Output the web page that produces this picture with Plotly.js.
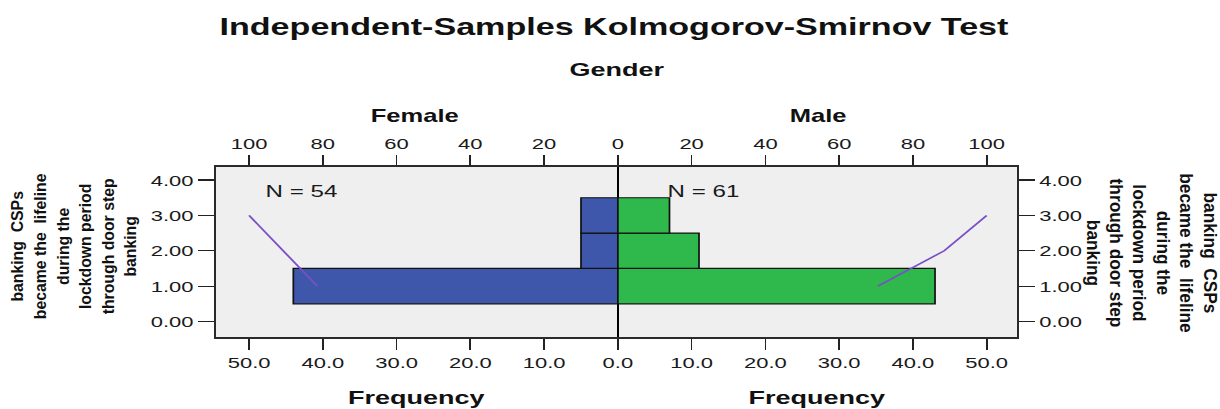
<!DOCTYPE html>
<html><head><meta charset="utf-8">
<script src="https://cdn.plot.ly/plotly-3.0.1.min.js"></script>
<style>
html,body{margin:0;padding:0;background:#fff;overflow:hidden;}
#wrap{width:1220px;height:409px;overflow:hidden;}
#chart{width:859px;height:409px;transform:scaleX(1.420256);transform-origin:0 0;}
</style></head><body>
<div id="wrap"><div id="chart"></div></div>
<script>
// ---- data ----
const categories = [1, 2, 3];
const femaleFreq = [44, 5, 5];
const maleFreq = [43, 11, 7];
const femaleCumPct = [81.5, 90.7, 100];
const maleCumPct = [70.5, 88.5, 100];
const femaleN = 54;
const maleN = 61;
const freqTicks = [-50, -40, -30, -20, -10, 0, 10, 20, 30, 40, 50];
const freqTickText = ['50.0','40.0','30.0','20.0','10.0','0.0','10.0','20.0','30.0','40.0','50.0'];
const pctTicks = [-100, -80, -60, -40, -20, 0, 20, 40, 60, 80, 100];
const pctTickText = ['100','80','60','40','20','0','20','40','60','80','100'];
const yTicks = [0, 1, 2, 3, 4];
const yTickText = ['0.00','1.00','2.00','3.00','4.00'];
const yTitle = 'banking  CSPs<br>became the  lifeline<br>during the<br>lockdown period<br>through door step<br>banking';
const chartTitle = 'Independent-Samples Kolmogorov-Smirnov Test';
const groupTitle = 'Gender';
const groups = ['Female', 'Male'];
const freqTitle = 'Frequency';

const S = 1220 / 859;
const FONT = 'Liberation Sans, Arial, sans-serif';
const blue = '#3e57aa', green = '#2fb84b', purple = '#7b4fc6';

const data = [
  {type:'bar', orientation:'h', x: femaleFreq.map(v => -v), y: categories, width: 1,
   marker:{color: blue, line:{color:'#111', width:1.2}}, xaxis:'x', yaxis:'y', hoverinfo:'skip'},
  {type:'bar', orientation:'h', x: maleFreq, y: categories, width: 1,
   marker:{color: green, line:{color:'#111', width:1.2}}, xaxis:'x', yaxis:'y', hoverinfo:'skip'},
  {type:'scatter', mode:'lines', x: femaleCumPct.map(v => -v), y: categories,
   line:{color: purple, width:1.5}, xaxis:'x2', yaxis:'y', hoverinfo:'skip'},
  {type:'scatter', mode:'lines', x: maleCumPct, y: categories,
   line:{color: purple, width:1.5}, xaxis:'x2', yaxis:'y2', hoverinfo:'skip'}
];

const axBase = {ticks:'outside', tickwidth:1.2, tickcolor:'#222', showline:true, linecolor:'#2a2a2a',
  linewidth:1.6, showgrid:false, fixedrange:true, tickfont:{family:FONT, size:15.5, color:'#1a1a1a'}};
const yRange = [-0.44, 4.37];

const layout = {
  width: 859, height: 409,
  margin:{l:152, r:143, t:167, b:72, pad:0},
  paper_bgcolor:'#ffffff', plot_bgcolor:'#efefef',
  showlegend:false, barmode:'overlay', bargap:0,
  font:{family:FONT, color:'#1a1a1a', size:15.5},
  title:{text: chartTitle, x:0.497, xref:'paper', xanchor:'center', y: 1 - 27/409, yref:'container', yanchor:'middle',
         font:{family:FONT, size:24, weight:'bold', color:'#111'}},
  xaxis: Object.assign({}, axBase, {range:[-54.5, 54.1], tickvals:freqTicks, ticktext:freqTickText, ticklen:11,
         zeroline:true, zerolinecolor:'#000', zerolinewidth:1.4, anchor:'y', side:'bottom'}),
  xaxis2: Object.assign({}, axBase, {range:[-109, 108.2], tickvals:pctTicks, ticktext:pctTickText, ticklen:10,
         zeroline:false, overlaying:'x', side:'top', anchor:'y'}),
  yaxis: Object.assign({}, axBase, {range:yRange, tickvals:yTicks, ticktext:yTickText, ticklen:11,
         zeroline:false, anchor:'x', side:'left'}),
  yaxis2: Object.assign({}, axBase, {range:yRange, tickvals:yTicks, ticktext:yTickText, ticklen:11,
         zeroline:false, overlaying:'y', side:'right', anchor:'x'}),
  annotations:[
    {text:yTitle, xref:'paper', yref:'paper', x:-0.177, y:0.535, xanchor:'center', yanchor:'middle',
     textangle:-90, showarrow:false, font:{family:FONT, size:15.8, weight:'bold', color:'#111'}},
    {text:yTitle, xref:'paper', yref:'paper', x:1.168, y:0.494, xanchor:'center', yanchor:'middle',
     textangle:90, showarrow:false, font:{family:FONT, size:17.3, weight:'bold', color:'#111'}},
    {text:groupTitle, xref:'paper', yref:'paper', x:0.5, y:1.571, xanchor:'center', yanchor:'middle',
     showarrow:false, font:{family:FONT, size:19, weight:'bold', color:'#111'}},
    {text:groups[0], xref:'paper', yref:'paper', x:0.249, y:1.30, xanchor:'center', yanchor:'middle',
     showarrow:false, font:{family:FONT, size:18, weight:'bold', color:'#111'}},
    {text:groups[1], xref:'paper', yref:'paper', x:0.751, y:1.30, xanchor:'center', yanchor:'middle',
     showarrow:false, font:{family:FONT, size:18, weight:'bold', color:'#111'}},
    {text:freqTitle, xref:'paper', yref:'paper', x:0.251, y:-0.353, xanchor:'center', yanchor:'middle',
     showarrow:false, font:{family:FONT, size:19, weight:'bold', color:'#111'}},
    {text:freqTitle, xref:'paper', yref:'paper', x:0.751, y:-0.353, xanchor:'center', yanchor:'middle',
     showarrow:false, font:{family:FONT, size:19, weight:'bold', color:'#111'}},
    {text:'N = ' + femaleN, xref:'x', yref:'y', x:-42.8, y:3.69, xanchor:'center', yanchor:'middle',
     showarrow:false, font:{family:FONT, size:17, color:'#1a1a1a'}},
    {text:'N = ' + maleN, xref:'x', yref:'y', x:11.6, y:3.69, xanchor:'center', yanchor:'middle',
     showarrow:false, font:{family:FONT, size:17, color:'#1a1a1a'}}
  ]
};

// horizontal scale of the rotated titles relative to the page stretch (reference draws them narrower)
const rotScale = {0: 1.1, 1: 1.04};

Plotly.newPlot('chart', data, layout, {staticPlot:true, displayModeBar:false}).then(function(gd){
  [0, 1].forEach(function(i){
    const g = gd.querySelector('.annotation[data-index="' + i + '"]');
    if (!g) return;
    const bb = g.getBBox();
    const cx = bb.x + bb.width / 2;
    g.setAttribute('transform', 'translate(' + cx + ',0) scale(' + (rotScale[i] / S) + ',1) translate(' + (-cx) + ',0)');
  });
});
</script>
</body></html>
